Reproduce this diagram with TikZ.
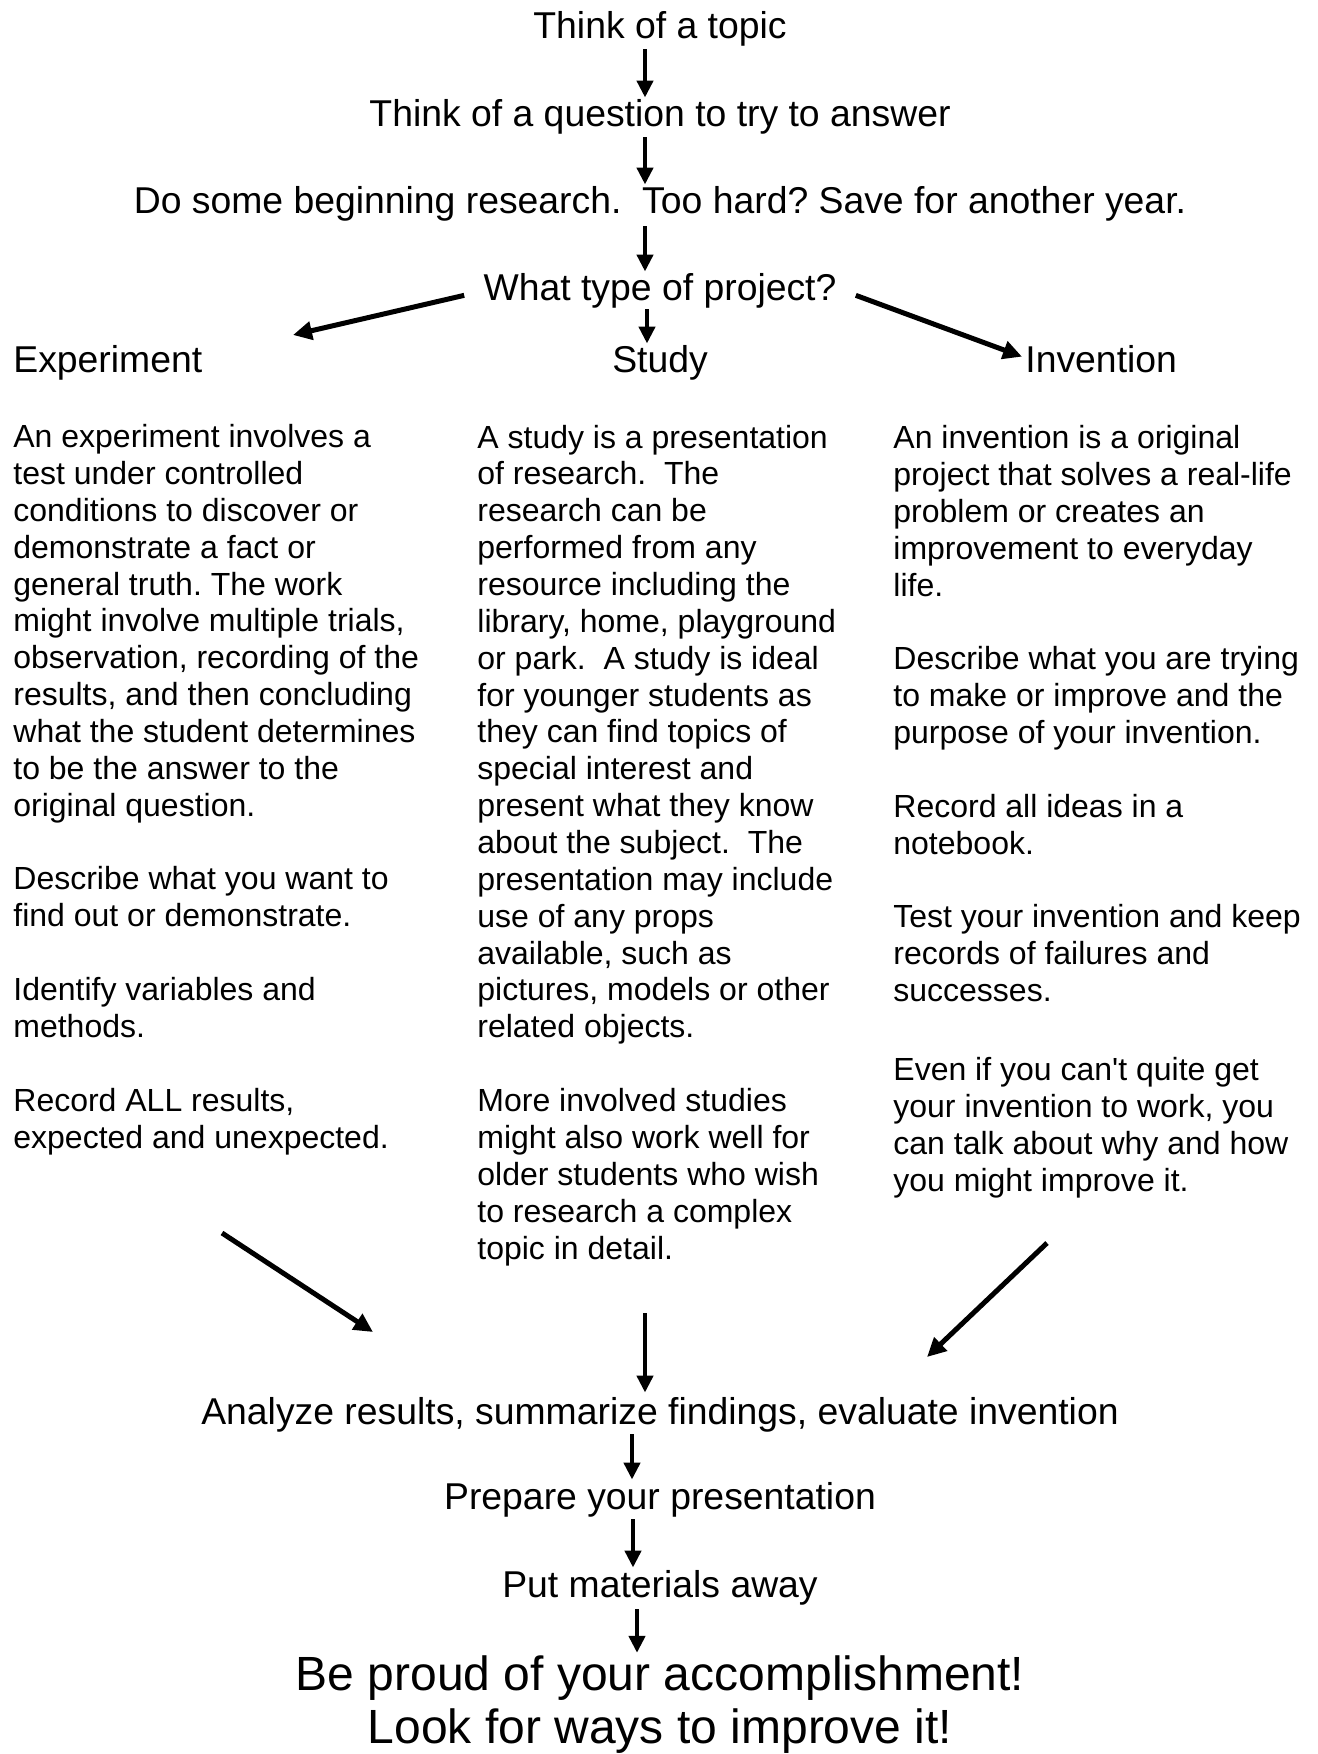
\documentclass[tikz,border=0pt]{standalone}
\usepackage{fontspec}
\setmainfont{Liberation Sans}
\usetikzlibrary{arrows.meta}
\frenchspacing
\tikzset{
  ttl/.style={font=\fontsize{18.67}{21.5}\selectfont, inner sep=0pt, anchor=base},
  hdr/.style={font=\fontsize{18.67}{21.5}\selectfont, inner sep=0pt, anchor=base west},
  bodytext/.style={font=\fontsize{16}{18.43}\selectfont, inner sep=0pt, anchor=base west, align=left},
  bigtext/.style={font=\fontsize{24}{26.5}\selectfont, inner sep=0pt, anchor=base, align=center},
  arr/.style={line width=2.2pt, -{Triangle[length=8.5pt,width=8pt]}},
  diag/.style={line width=2.5pt, -{Triangle[length=9.5pt,width=9pt]}}
}
\begin{document}
\begin{tikzpicture}[x=0.5pt,y=-0.5pt]
\useasboundingbox (0,0) rectangle (1317,1754);

\node[ttl] (topic) at (660,39) {Think of a topic};
\node[ttl] (quest) at (660,127) {Think of a question to try to answer};
\node[ttl] (research) at (660,214) {Do some beginning research.\ \ Too hard? Save for another year.};
\node[ttl] (type) at (660,301) {What type of project?};

\node[hdr] (exp) at (13,373) {Experiment};
\node[ttl] (study) at (660,373) {Study};
\node[hdr] (inv) at (1025,373) {Invention};

% multi-line nodes are placed by the baseline of their last line
\node[bodytext] (expbody) at (13,1148) {An experiment involves a\\
test under controlled\\
conditions to discover or\\
demonstrate a fact or\\
general truth. The work\\
might involve multiple trials,\\
observation, recording of the\\
results, and then concluding\\
what the student determines\\
to be the answer to the\\
original question.\\[18.43pt]
Describe what you want to\\
find out or demonstrate.\\[18.43pt]
Identify variables and\\
methods.\\[18.43pt]
Record ALL results,\\
expected and unexpected.};

\node[bodytext] (studybody) at (477,1259) {A study is a presentation\\
of research.\ \ The\\
research can be\\
performed from any\\
resource including the\\
library, home, playground\\
or park.\ \ A study is ideal\\
for younger students as\\
they can find topics of\\
special interest and\\
present what they know\\
about the subject.\ \ The\\
presentation may include\\
use of any props\\
available, such as\\
pictures, models or other\\
related objects.\\[18.43pt]
More involved studies\\
might also work well for\\
older students who wish\\
to research a complex\\
topic in detail.};

\node[bodytext] (invbody) at (893,1191) {An invention is a original\\
project that solves a real-life\\
problem or creates an\\
improvement to everyday\\
life.\\[18.43pt]
Describe what you are trying\\
to make or improve and the\\
purpose of your invention.\\[18.43pt]
Record all ideas in a\\
notebook.\\[18.43pt]
Test your invention and keep\\
records of failures and\\
successes.\\[21pt]
Even if you can\textquotesingle t quite get\\
your invention to work, you\\
can talk about why and how\\
you might improve it.};

\node[ttl] (analyze) at (660,1424) {Analyze results, summarize findings, evaluate invention};
\node[ttl] (prepare) at (660,1509) {Prepare your presentation};
\node[ttl] (putaway) at (660,1597) {Put materials away};
\node[bigtext] (proud) at (660,1743) {Be proud of your accomplishment!\\Look for ways to improve it!};

% free arrow ends
\coordinate (expend) at (293,335);
\coordinate (lstart) at (222,1233);
\coordinate (lend) at (373,1332);
\coordinate (mstart) at (645,1313);
\coordinate (rstart) at (1047,1243);
\coordinate (rend) at (927,1357);

\draw[arr] ([xshift=-7.5pt,yshift=-1pt]topic.south) -- ([xshift=-7.5pt,yshift=1pt]quest.north);
\draw[arr] ([xshift=-7.5pt,yshift=-1pt]quest.south) -- ([xshift=-7.5pt,yshift=1pt]research.north);
\draw[arr] ([xshift=-7.5pt,yshift=-2pt]research.south) -- ([xshift=-7.5pt,yshift=1pt]type.north);
\draw[diag] ([xshift=-9.5pt,yshift=-2pt]type.west) -- (expend);
\draw[arr] ([xshift=-6.5pt]type.south) -- ([xshift=-6.5pt,yshift=1pt]study.north);
\draw[diag] ([xshift=9.5pt,yshift=-2pt]type.east) -- ([xshift=-1.5pt,yshift=1.5pt]inv.west);

\draw[diag] (lstart) -- (lend);
\draw[arr] (mstart) -- ([yshift=2pt]mstart |- analyze.north);
\draw[diag] (rstart) -- (rend);

\draw[arr] ([xshift=-14pt,yshift=-1pt]analyze.south) -- ([xshift=-14pt,yshift=1pt]prepare.north);
\draw[arr] ([xshift=-13.5pt,yshift=-1pt]prepare.south) -- ([xshift=-13.5pt,yshift=1pt]putaway.north);
\draw[arr] ([xshift=-11.5pt,yshift=-2pt]putaway.south) -- ([xshift=-11.5pt,yshift=1pt]proud.north);
\end{tikzpicture}
\end{document}
